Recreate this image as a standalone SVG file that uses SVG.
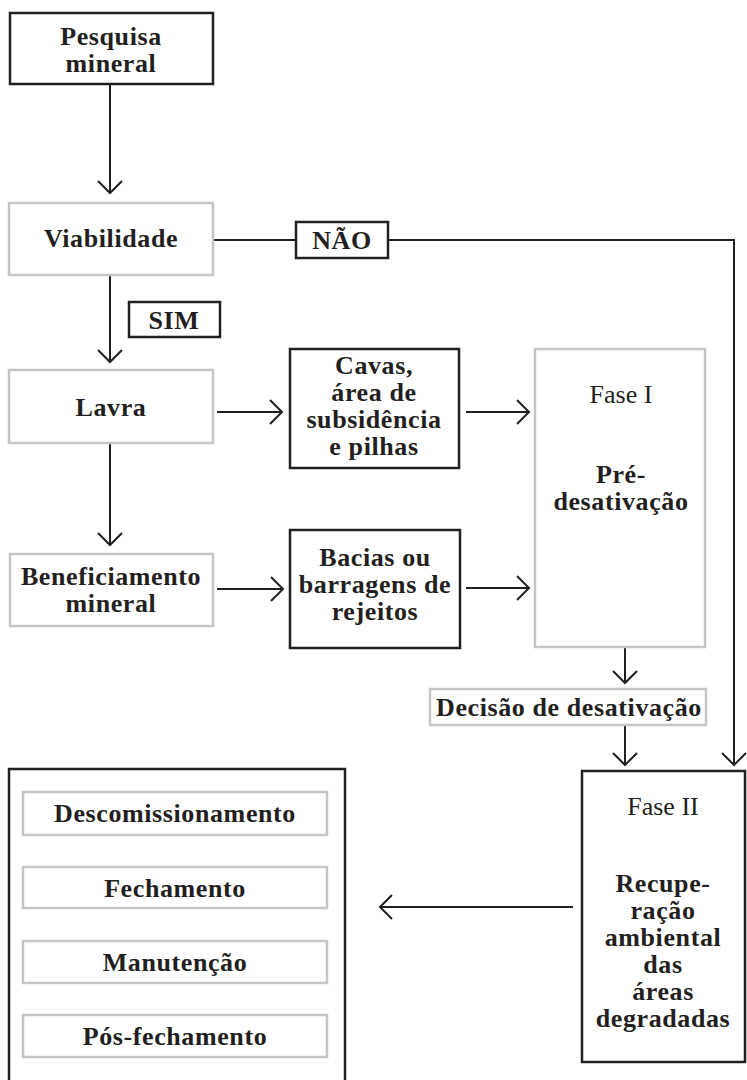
<svg xmlns="http://www.w3.org/2000/svg" width="747" height="1080" viewBox="0 0 747 1080">
<style>
.dk{fill:#fff;stroke:#231f20;stroke-width:2.5}
.gr{fill:#fff;stroke:#c5c5c8;stroke-width:2.5}
.t{font-family:"Liberation Serif","Times New Roman",serif;font-weight:bold;font-size:26px;fill:#231f20;text-anchor:middle;letter-spacing:0.6px}
.r{font-family:"Liberation Serif","Times New Roman",serif;font-weight:normal;font-size:26px;fill:#231f20;text-anchor:middle}
.c{fill:none;stroke:#231f20;stroke-width:2}
</style>
<defs>
<marker id="ah" markerUnits="userSpaceOnUse" viewBox="-15 -15 30 30" markerWidth="30" markerHeight="30" refX="0" refY="0" orient="auto">
<path d="M-12,-12 L0,0 L-12,12" fill="none" stroke="#231f20" stroke-width="2"/>
</marker>
</defs>
<rect width="747" height="1080" fill="#fff"/>
<g id="connectors">
<path class="c" d="M110,84 V193" marker-end="url(#ah)"/>
<path class="c" d="M110,275 V362" marker-end="url(#ah)"/>
<path class="c" d="M213,240 H296"/>
<path class="c" d="M388,240 H734 V765" marker-end="url(#ah)"/>
<path class="c" d="M110,443 V545" marker-end="url(#ah)"/>
<path class="c" d="M217,412 H282" marker-end="url(#ah)"/>
<path class="c" d="M466,412 H529" marker-end="url(#ah)"/>
<path class="c" d="M217,589 H283" marker-end="url(#ah)"/>
<path class="c" d="M466,588 H529" marker-end="url(#ah)"/>
<path class="c" d="M625,647 V683" marker-end="url(#ah)"/>
<path class="c" d="M625,725 V765" marker-end="url(#ah)"/>
<path class="c" d="M573,907 H380" marker-end="url(#ah)"/>
</g>
<g id="pesquisa"><rect class="dk" x="10" y="13" width="203" height="71"/><text class="t" x="111" y="45">Pesquisa</text><text class="t" x="111" y="72">mineral</text></g>
<g id="viabilidade"><rect class="gr" x="9" y="203" width="204" height="72"/><text class="t" x="111" y="247">Viabilidade</text></g>
<g id="nao"><rect class="dk" x="296" y="222" width="92" height="36"/><text class="t" x="342" y="249">NÃO</text></g>
<g id="sim"><rect class="dk" x="129" y="302" width="91" height="35"/><text class="t" x="174" y="329">SIM</text></g>
<g id="lavra"><rect class="gr" x="9" y="370" width="204" height="73"/><text class="t" x="111" y="416">Lavra</text></g>
<g id="cavas"><rect class="dk" x="290" y="349" width="169" height="119"/><text class="t" x="374" y="374">Cavas,</text><text class="t" x="374" y="401">área de</text><text class="t" x="374" y="428">subsidência</text><text class="t" x="374" y="455">e pilhas</text></g>
<g id="fase1"><rect class="gr" x="535" y="349" width="170" height="298"/><text class="r" x="621" y="403">Fase I</text><text class="t" x="621" y="483">Pré-</text><text class="t" x="621" y="510">desativação</text></g>
<g id="beneficiamento"><rect class="gr" x="10" y="554" width="203" height="72"/><text class="t" x="111" y="585">Beneficiamento</text><text class="t" x="111" y="612">mineral</text></g>
<g id="bacias"><rect class="dk" x="290" y="530" width="170" height="118"/><text class="t" x="375" y="566">Bacias ou</text><text class="t" x="375" y="593">barragens de</text><text class="t" x="375" y="620">rejeitos</text></g>
<g id="decisao"><rect class="gr" x="430" y="689" width="276" height="36"/><text class="t" x="569" y="716">Decisão de desativação</text></g>
<g id="fase2"><rect class="dk" x="582" y="771" width="163" height="291"/><text class="r" x="663" y="815">Fase II</text><text class="t" x="663" y="892">Recupe-</text><text class="t" x="663" y="919">ração</text><text class="t" x="663" y="946">ambiental</text><text class="t" x="663" y="973">das</text><text class="t" x="663" y="1000">áreas</text><text class="t" x="663" y="1027">degradadas</text></g>
<g id="fechamento-grupo"><rect class="dk" x="9" y="769" width="336" height="330"/>
<g id="descomissionamento"><rect class="gr" x="23" y="792" width="304" height="43"/><text class="t" x="175" y="822">Descomissionamento</text></g>
<g id="fechamento"><rect class="gr" x="23" y="867" width="304" height="41"/><text class="t" x="175" y="897">Fechamento</text></g>
<g id="manutencao"><rect class="gr" x="23" y="941" width="304" height="42"/><text class="t" x="175" y="971">Manutenção</text></g>
<g id="posfechamento"><rect class="gr" x="23" y="1015" width="304" height="42"/><text class="t" x="175" y="1045">Pós-fechamento</text></g>
</g>
</svg>
